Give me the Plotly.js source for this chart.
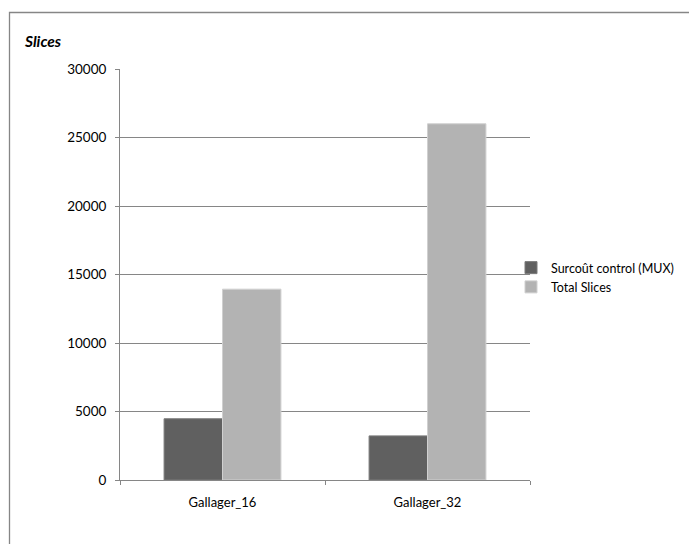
<!DOCTYPE html>
<html>
<head>
<meta charset="utf-8">
<script src="https://cdn.plot.ly/plotly-3.0.1.min.js"></script>
<style>
html,body{margin:0;padding:0;background:#fff;}
#chart{width:689px;height:544px;}
</style>
</head>
<body>
<div id="chart"></div>
<script>
const categories = ['Gallager_16', 'Gallager_32'];
const seriesNames = ['Surcoût control (MUX)', 'Total Slices'];
const muxValues = [4470, 3220];
const totalValues = [13930, 26000];
const yTickVals = [0, 5000, 10000, 15000, 20000, 25000, 30000];

const fontFam = "Lato, Carlito, 'Liberation Sans', sans-serif";

const traces = [
  {type: 'bar', name: seriesNames[0], x: categories, y: muxValues,
   marker: {color: '#606060', line: {color: '#7a7a7a', width: 1}}, hoverinfo: 'skip'},
  {type: 'bar', name: seriesNames[1], x: categories, y: totalValues,
   marker: {color: '#b3b3b3', line: {color: '#d0d0d0', width: 1}}, hoverinfo: 'skip'}
];

const L = 120, R = 530, T = 69, B = 480;
const W = 689, H = 544;
const px = v => (v - L) / (R - L);
const py = v => (B - v) / (B - T);

const layout = {
  width: W, height: H,
  margin: {l: L, r: W - R, t: T, b: H - B, pad: 0, autoexpand: false},
  paper_bgcolor: '#fff', plot_bgcolor: '#fff',
  font: {family: fontFam, size: 13, color: '#000'},
  title: {text: '<b><i>Slices</i></b>', x: 25 / W, xanchor: 'left', xref: 'container',
          y: 1 - 42 / H, yanchor: 'middle', yref: 'container',
          font: {family: fontFam, size: 15.5, color: '#000'}},
  barmode: 'group', bargap: 0.43, bargroupgap: 0,
  showlegend: true,
  legend: {x: px(511), xanchor: 'left', y: py(253), yanchor: 'top',
           font: {family: fontFam, size: 12.5, color: '#000'},
           itemwidth: 30, tracegroupgap: 0, bgcolor: 'rgba(0,0,0,0)'},
  xaxis: {type: 'category', showline: true, linecolor: '#868686', linewidth: 1,
          ticks: 'outside', tickson: 'boundaries', ticklen: 4, tickcolor: '#868686',
          ticklabelstandoff: 10,
          showgrid: false, zeroline: false, tickfont: {size: 13}, fixedrange: true},
  yaxis: {range: [0, 30000], tickvals: yTickVals, ticktext: yTickVals.map(String),
          showline: true, linecolor: '#868686', linewidth: 1,
          ticks: 'outside', ticklen: 4, tickcolor: '#868686',
          ticklabelstandoff: 6,
          showgrid: true, gridcolor: '#868686', gridwidth: 1, zeroline: false,
          tickfont: {size: 13.5}, fixedrange: true},
  shapes: [{type: 'rect', xref: 'paper', yref: 'paper',
            x0: px(9.5), x1: px(720), y0: py(580), y1: py(12.5),
            line: {color: '#868686', width: 1.3}, fillcolor: 'rgba(0,0,0,0)', layer: 'below'}]
};

Plotly.newPlot('chart', traces, layout, {displayModeBar: false, staticPlot: true});
</script>
</body>
</html>
